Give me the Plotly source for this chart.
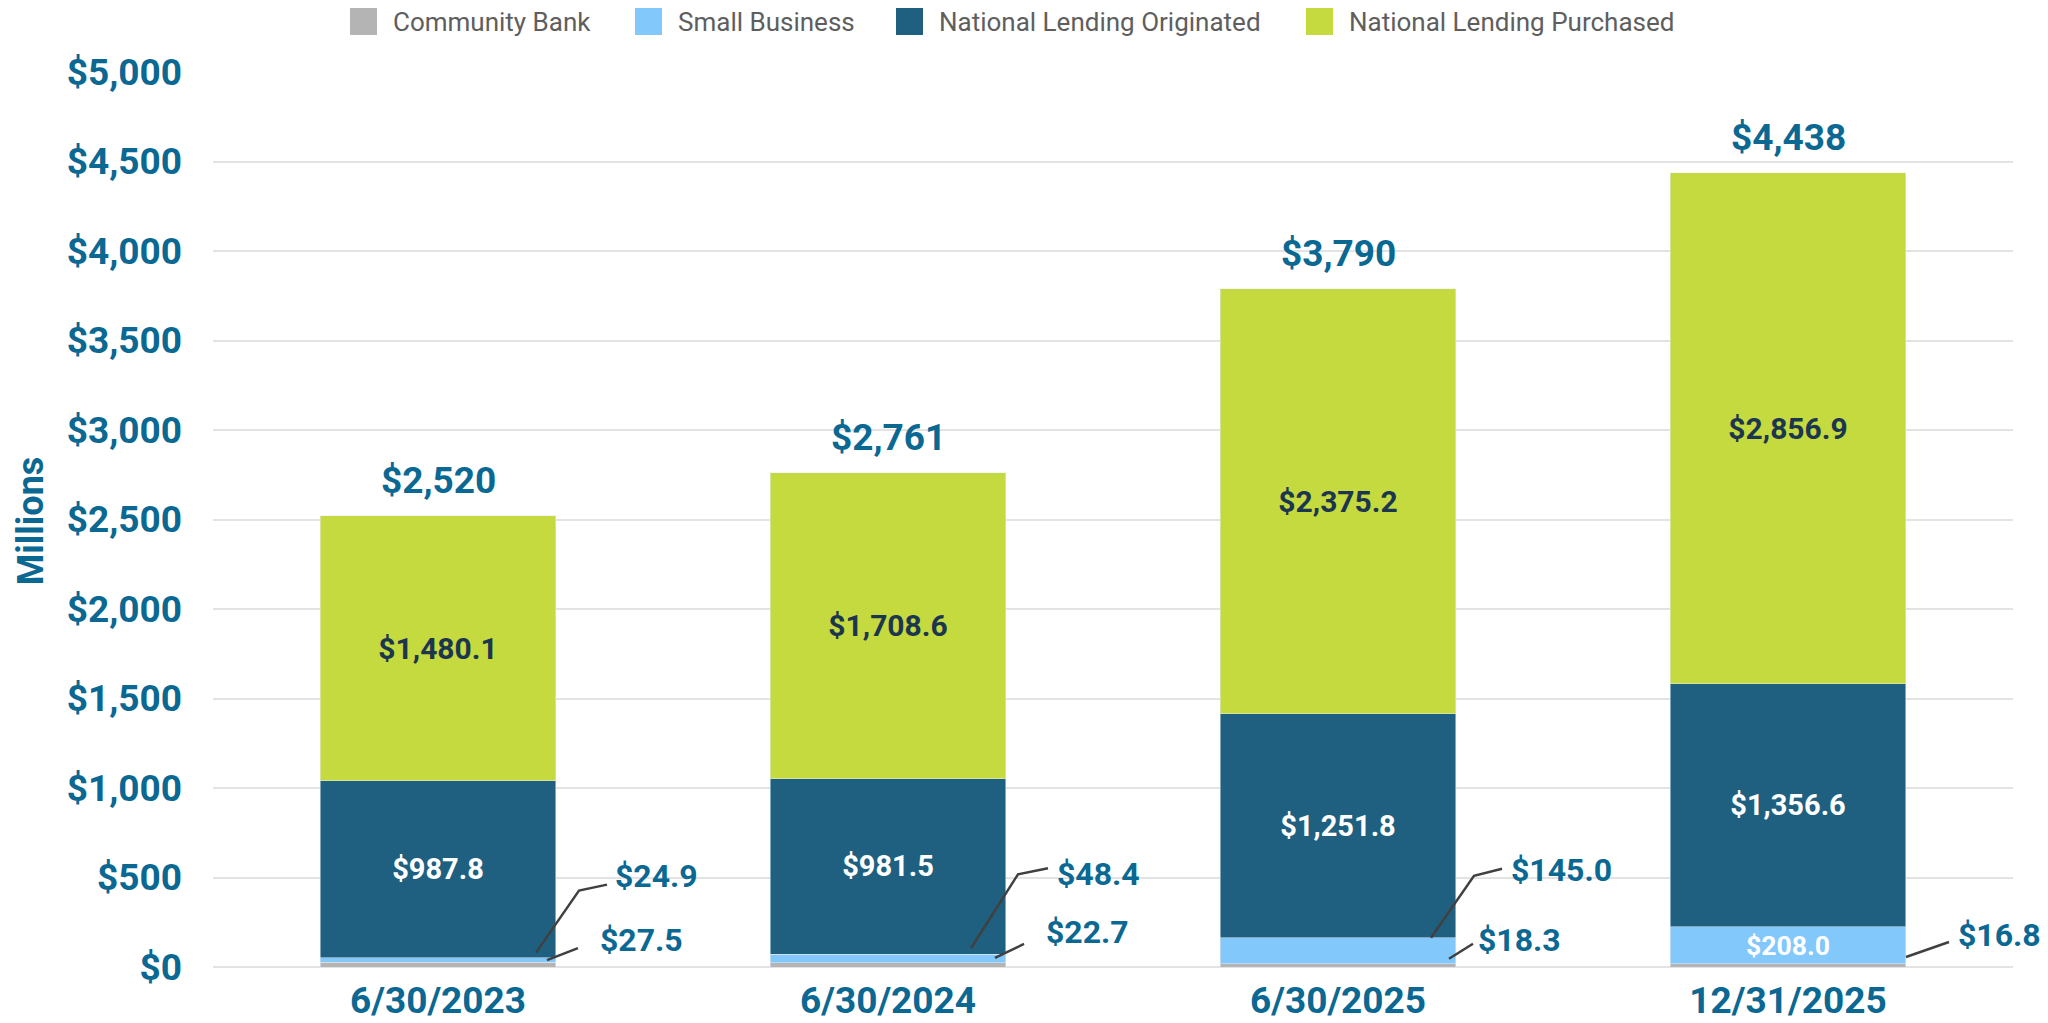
import plotly.graph_objects as go

# ---------------- data ----------------
categories = ["6/30/2023", "6/30/2024", "6/30/2025", "12/31/2025"]
community_bank = [27.5, 22.7, 18.3, 16.8]
small_business = [24.9, 48.4, 145.0, 208.0]
nl_originated = [987.8, 981.5, 1251.8, 1356.6]
nl_purchased = [1480.1, 1708.6, 2375.2, 2856.9]
series_names = ["Community Bank", "Small Business", "National Lending Originated", "National Lending Purchased"]
y_ticks = [0, 500, 1000, 1500, 2000, 2500, 3000, 3500, 4000, 4500, 5000]

# ---------------- style ----------------
FONT = "Roboto"
TEAL = "#0a6892"
NAVY = "#1c3650"
C_CB = "#b4b4b4"
C_SB = "#82c8fb"
C_NO = "#1f6080"
C_NP = "#c5da3e"
LEADER = "#404040"
colors = [C_CB, C_SB, C_NO, C_NP]

M_L, M_R, M_T, M_B = 213, 35, 72, 56

# leader line geometry in pixels relative to (bar center, top of segment), y positive = up
sb_leader = [
    dict(pts=[(98, 5), (141, 67), (169, 73)], lx=175, ly=82),
    dict(pts=[(83, 6), (130, 80), (160, 86)], lx=167, ly=80),
    dict(pts=[(93, 0), (136, 62), (164, 69)], lx=171, ly=68),
    None,
]
cb_leader = [
    dict(pts=[(109, 2), (140, 14)], lx=160, ly=22),
    dict(pts=[(107, 5), (136, 19)], lx=156, ly=31),
    dict(pts=[(111, 5), (135, 20)], lx=138, ly=24),
    dict(pts=[(118, 7), (161, 22)], lx=168, ly=29),
]
# manual legend: swatch left offsets (px from plot left)
legend_swatch_x = [137, 422, 683, 1093]

fig = go.Figure()

fig.add_bar(x=categories, y=community_bank, name=series_names[0], marker_color=C_CB,
            hoverinfo="skip")
sb_text = ["" for _ in small_business]
sb_text[-1] = "$%s" % format(small_business[-1], ",.1f")
fig.add_bar(x=categories, y=small_business, name=series_names[1], marker_color=C_SB,
            text=sb_text, texttemplate="%{text}", textposition="inside",
            insidetextanchor="middle", textangle=0,
            textfont=dict(family=FONT, size=29, color="white", weight="bold"))
fig.add_bar(x=categories, y=nl_originated, name=series_names[2], marker_color=C_NO,
            texttemplate="$%{y:,.1f}", textposition="inside", insidetextanchor="middle",
            textangle=0, textfont=dict(family=FONT, size=29, color="white", weight="bold"))
fig.add_bar(x=categories, y=nl_purchased, name=series_names[3], marker_color=C_NP,
            texttemplate="$%{y:,.1f}", textposition="inside", insidetextanchor="middle",
            textangle=0, textfont=dict(family=FONT, size=30, color=NAVY, weight="bold"))

annotations = []
shapes = []
for i, cat in enumerate(categories):
    total = community_bank[i] + small_business[i] + nl_originated[i] + nl_purchased[i]
    annotations.append(dict(x=cat, y=total, xref="x", yref="y", text="$%s" % format(total, ",.0f"),
                            showarrow=False, yanchor="bottom", yshift=12,
                            font=dict(family=FONT, size=37, color=TEAL, weight="bold")))
    sb_top = community_bank[i] + small_business[i]
    cfg = sb_leader[i]
    if cfg is not None:
        p = cfg["pts"]
        path = "M%d,%d L%d,%d L%d,%d" % (p[0][0], p[0][1], p[1][0], p[1][1], p[2][0], p[2][1])
        shapes.append(dict(type="path", xref="x", yref="y", xsizemode="pixel", ysizemode="pixel",
                           xanchor=i, yanchor=sb_top, path=path,
                           line=dict(color=LEADER, width=2.5)))
        annotations.append(dict(x=i, y=sb_top, xref="x", yref="y",
                                text="$%s" % format(small_business[i], ",.1f"),
                                showarrow=False, xanchor="left", yanchor="middle",
                                xshift=cfg["lx"], yshift=cfg["ly"],
                                font=dict(family=FONT, size=32, color=TEAL, weight="bold")))
    cb_top = community_bank[i]
    cfg = cb_leader[i]
    p = cfg["pts"]
    path = "M%d,%d L%d,%d" % (p[0][0], p[0][1], p[1][0], p[1][1])
    shapes.append(dict(type="path", xref="x", yref="y", xsizemode="pixel", ysizemode="pixel",
                       xanchor=i, yanchor=cb_top, path=path,
                       line=dict(color=LEADER, width=2.5)))
    annotations.append(dict(x=i, y=cb_top, xref="x", yref="y",
                            text="$%s" % format(community_bank[i], ",.1f"),
                            showarrow=False, xanchor="left", yanchor="middle",
                            xshift=cfg["lx"], yshift=cfg["ly"],
                            font=dict(family=FONT, size=32, color=TEAL, weight="bold")))

# legend (drawn at top, above the plot area)
for name, col, sx in zip(series_names, colors, legend_swatch_x):
    shapes.append(dict(type="rect", xref="paper", yref="paper", xsizemode="pixel", ysizemode="pixel",
                       xanchor=0, yanchor=1, x0=sx, x1=sx + 27, y0=37, y1=64,
                       fillcolor=col, line=dict(width=0)))
    annotations.append(dict(x=0, y=1, xref="paper", yref="paper", text=name, showarrow=False,
                            xanchor="left", yanchor="middle", xshift=sx + 41, yshift=50,
                            font=dict(family=FONT, size=26, color="#5e5e5e")))

# y-axis title
annotations.append(dict(x=0, y=0.498, xref="paper", yref="paper", text="Millions", textangle=-90,
                        showarrow=False, xanchor="center", yanchor="middle", xshift=-182,
                        font=dict(family=FONT, size=36, color=TEAL, weight="bold")))

fig.update_layout(
    barmode="stack",
    bargap=0.476,
    width=2048, height=1023,
    margin=dict(l=M_L, r=M_R, t=M_T, b=M_B, autoexpand=False),
    paper_bgcolor="white", plot_bgcolor="white",
    font=dict(family=FONT),
    showlegend=False,
    annotations=annotations,
    shapes=shapes,
)
fig.update_xaxes(type="category", range=[-0.5, len(categories) - 0.5], autorange=False,
                 showgrid=False, showline=False, ticks="", automargin=False,
                 ticklabelstandoff=8,
                 tickfont=dict(family=FONT, size=37, color=TEAL, weight="bold"))
fig.update_yaxes(range=[0, 5000], autorange=False, tickvals=y_ticks, automargin=False,
                 ticktext=["$" + format(v, ",") for v in y_ticks],
                 showgrid=True, gridcolor="#e3e3e3", gridwidth=2,
                 zeroline=True, zerolinecolor="#e3e3e3", zerolinewidth=2,
                 showline=False, ticks="", ticklabelstandoff=30,
                 tickfont=dict(family=FONT, size=37, color=TEAL, weight="bold"))

fig.write_html("out.html", config={"displayModeBar": False},
               post_script="document.body.style.margin='0';document.body.style.overflow='hidden';")
